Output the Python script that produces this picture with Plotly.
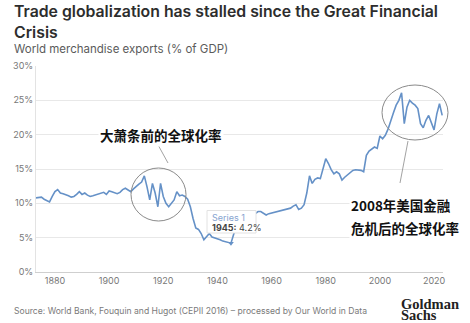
import plotly.graph_objects as go

years = list(range(1873, 2024))
exports_pct = [
    10.8, 10.9, 10.9, 10.6, 10.4, 10.2, 11.0,            # 1873-1879
    11.7, 12.0, 11.5, 11.4, 11.3, 11.1, 10.9, 11.0, 11.3, 11.7,  # 1880-1889
    11.3, 11.5, 11.2, 11.0, 11.1, 11.2, 11.3, 11.5, 11.6, 11.3,  # 1890-1899
    11.8, 11.7, 11.6, 11.4, 11.6, 12.0, 12.2, 12.0, 11.7, 12.1,  # 1900-1909
    12.5, 12.8, 13.1, 14.0, 12.4, 10.5, 12.9, 11.5, 9.5, 12.9,   # 1910-1919
    11.0, 10.0, 9.5, 10.0, 10.5, 11.7, 11.1, 11.2, 11.0, 10.6,   # 1920-1929
    9.5, 7.8, 6.4, 6.2, 5.6, 4.7, 5.2, 5.6, 5.1, 5.0,            # 1930-1939
    4.9, 4.7, 4.5, 4.4, 4.3, 4.2, 5.5, 6.5, 6.8, 7.0,            # 1940-1949
    7.4, 8.0, 7.8, 8.0, 8.5, 8.8, 8.8, 8.6, 8.3, 8.5,            # 1950-1959
    8.6, 8.6, 8.7, 8.8, 8.9, 9.0, 9.1, 9.3, 9.6, 9.8,            # 1960-1969
    9.1, 9.3, 9.8, 11.5, 14.0, 12.9, 13.5, 13.7, 13.6, 15.0,     # 1970-1979
    16.5, 15.8, 14.9, 14.3, 14.6, 14.3, 13.4, 13.8, 14.1, 14.5,  # 1980-1989
    14.8, 14.9, 14.9, 14.8, 14.6, 17.0, 17.6, 17.9, 18.2, 18.0,  # 1990-1999
    19.8, 19.4, 19.9, 20.8, 22.2, 23.2, 24.3, 25.0, 26.1, 21.6,  # 2000-2009
    24.0, 25.0, 24.6, 24.3, 23.8, 21.6, 21.0, 22.1, 22.8, 21.8,  # 2010-2019
    20.7, 23.0, 24.5, 22.8,                                      # 2020-2023
]
x_ticks = [1880, 1900, 1920, 1940, 1960, 1980, 2000, 2020]
y_ticks = [0, 5, 10, 15, 20, 25, 30]
y_tick_labels = ["0%", "5%", "10%", "15%", "20%", "25%", "30%"]
hover_year = 1945
hover_value = exports_pct[years.index(hover_year)]

title_text = "Trade globalization has stalled since the Great Financial<br>Crisis"
subtitle_text = "World merchandise exports (% of GDP)"
source_text = "Source: World Bank, Fouquin and Hugot (CEPII 2016) – processed by Our World in Data"
note_pre = "大萧条前的全球化率"
note_post_1 = "2008年美国金融"
note_post_2 = "危机后的全球化率"
tooltip_series = "Series 1"

W, H = 470, 323
ML, MR, MT, MB = 36, 27, 66, 51
PW, PH = W - ML - MR, H - MT - MB


def px(x):
    return (x - ML) / PW


def py(y):
    return (H - MB - y) / PH


LINE = "#6591c7"
fig = go.Figure()
fig.add_trace(go.Scatter(x=years, y=exports_pct, mode="lines",
                         line=dict(color=LINE, width=1.6), showlegend=False,
                         hoverinfo="skip"))
fig.add_trace(go.Scatter(x=[hover_year], y=[hover_value], mode="markers",
                         marker=dict(color=LINE, size=5, symbol="triangle-down"),
                         showlegend=False, hoverinfo="skip"))


def text_ann(text, x, y, size, color, family="Inter", xanchor="left", yanchor="middle", **kw):
    return dict(text=text, x=px(x), y=py(y), xref="paper", yref="paper",
                xanchor=xanchor, yanchor=yanchor, align="left", showarrow=False,
                font=dict(family=family, size=size, color=color, **kw))


ann = [
    dict(text_ann(title_text, 12, 0, 15.8, "#2d2d2d", yanchor="top", weight=600)),
    text_ann(subtitle_text, 12, 40, 11.5, "#5b5b5b", yanchor="top"),
    text_ann(source_text, 12, 311, 8.6, "#7a7a7a"),
    text_ann("<b>Goldman</b>", 399, 303.5, 14.5, "#222222", family="Liberation Serif"),
    text_ann("<b>Sachs</b>", 399, 315, 14.5, "#222222", family="Liberation Serif"),
    dict(text_ann("<b>" + note_pre + "</b>", 161, 135, 13.5, "#111111",
                  family="Noto Sans CJK SC", xanchor="center"), bgcolor="white"),
    dict(text_ann("<b>" + note_post_1 + "</b>", 349, 205, 13.5, "#111111",
                  family="Noto Sans CJK SC"), bgcolor="white"),
    dict(text_ann("<b>" + note_post_2 + "</b>", 349, 228, 13.5, "#111111",
                  family="Noto Sans CJK SC"), bgcolor="white"),
    text_ann(tooltip_series, 210, 217, 9, "#86a3cf"),
    text_ann("<b>%d:</b> %.1f%%" % (hover_year, hover_value), 210, 227, 9, "#444444"),
]

shapes = [
    dict(type="rect", xref="paper", yref="paper", x0=px(207), x1=px(256), y0=py(210.5), y1=py(233),
         line=dict(color="#e2e2e2", width=1), fillcolor="white", layer="above"),
    dict(type="circle", xref="paper", yref="paper", x0=px(131), x1=px(186), y0=py(168), y1=py(221),
         line=dict(color="#8a8a8a", width=1)),
    dict(type="circle", xref="paper", yref="paper", x0=px(382), x1=px(448), y0=py(85), y1=py(140),
         line=dict(color="#8a8a8a", width=1)),
    dict(type="line", xref="paper", yref="paper", x0=px(157), x1=px(168), y0=py(143), y1=py(163),
         line=dict(color="#8a8a8a", width=0.8)),
    dict(type="line", xref="paper", yref="paper", x0=px(408), x1=px(400), y0=py(141), y1=py(183),
         line=dict(color="#8a8a8a", width=0.8)),
]

fig.update_layout(
    width=W, height=H, margin=dict(l=ML, r=MR, t=MT, b=MB),
    paper_bgcolor="white", plot_bgcolor="white",
    annotations=ann, shapes=shapes, showlegend=False,
    xaxis=dict(range=[1873, 2023.3], tickvals=x_ticks, showgrid=False, zeroline=False,
               showline=True, linecolor="#cfcfcf", ticks="",
               tickfont=dict(family="Inter", size=9, color="#777777")),
    yaxis=dict(range=[0, 30], tickmode="array", tickvals=y_ticks, ticktext=y_tick_labels,
               showgrid=True, gridcolor="#e8e8e8", zeroline=False, showline=True,
               linecolor="#e3e3e3", ticks="",
               tickfont=dict(family="Inter", size=9, color="#777777")),
)

fig.write_html("out.html")
